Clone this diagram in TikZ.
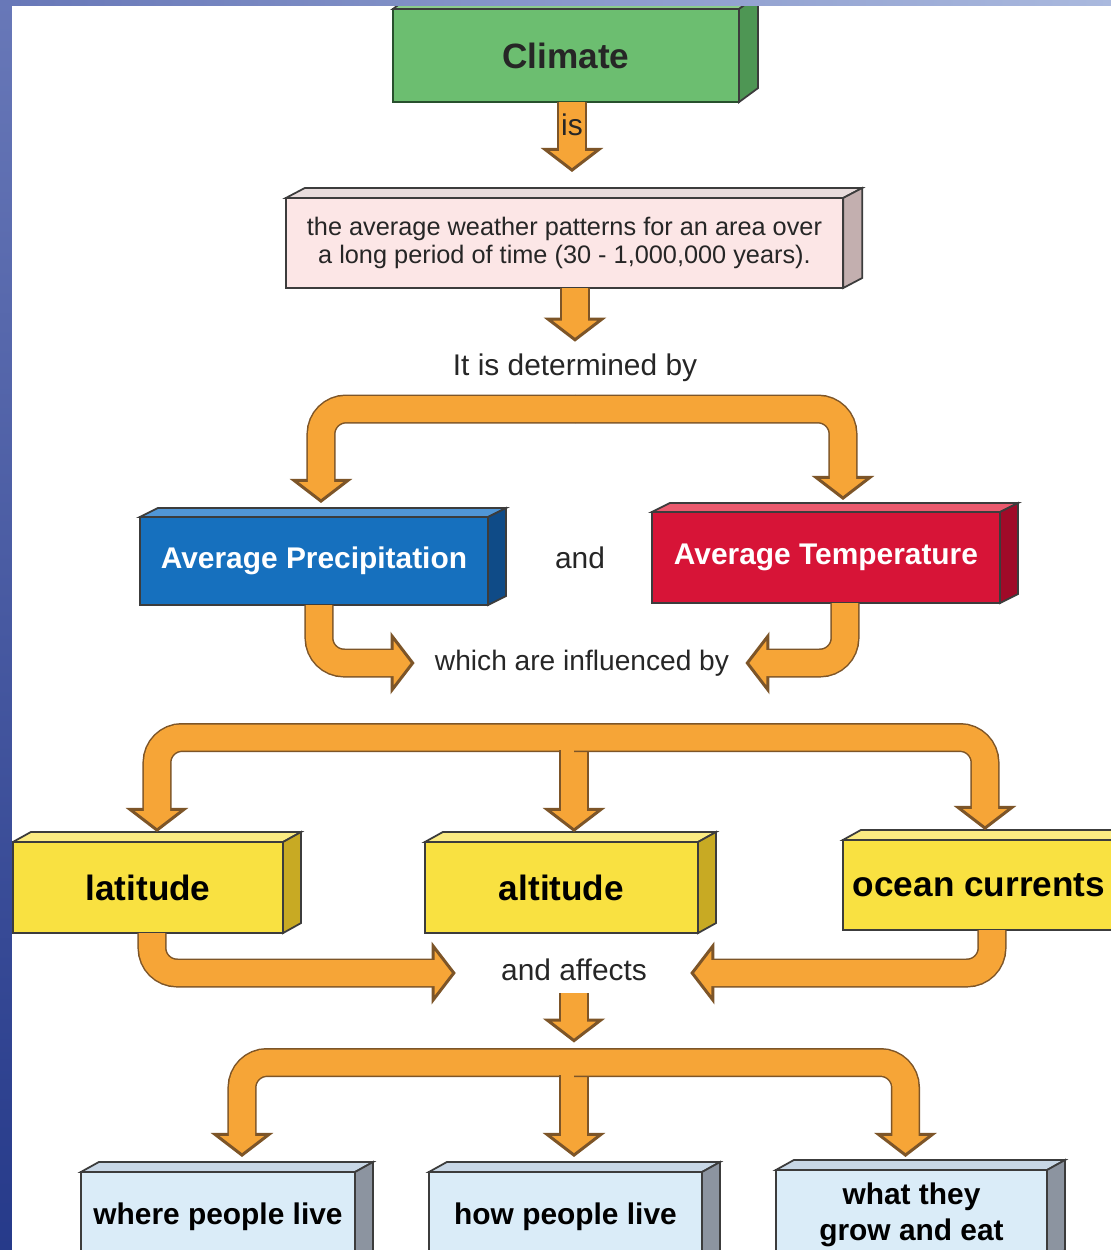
\documentclass[tikz,border=0pt]{standalone}
\usepackage{fontspec}
\setmainfont{Liberation Sans}
\usetikzlibrary{arrows.meta,calc}

\definecolor{frontclim}{RGB}{108,190,112}
\definecolor{topclim}{RGB}{140,205,140}
\definecolor{sideclim}{RGB}{78,150,84}
\definecolor{edgeclim}{RGB}{40,80,45}
\definecolor{frontnote}{RGB}{252,230,230}
\definecolor{topnote}{RGB}{232,220,220}
\definecolor{sidenote}{RGB}{195,175,175}
\definecolor{frontprec}{RGB}{22,112,190}
\definecolor{topprec}{RGB}{80,150,215}
\definecolor{sideprec}{RGB}{15,75,135}
\definecolor{fronttemp}{RGB}{215,20,55}
\definecolor{toptemp}{RGB}{235,90,110}
\definecolor{sidetemp}{RGB}{160,10,40}
\definecolor{frontfact}{RGB}{249,225,65}
\definecolor{topfact}{RGB}{251,235,130}
\definecolor{sidefact}{RGB}{200,170,35}
\definecolor{fronteff}{RGB}{218,236,248}
\definecolor{topeff}{RGB}{200,215,230}
\definecolor{sideeff}{RGB}{140,148,160}
\definecolor{arroworange}{RGB}{246,165,55}
\definecolor{arrowedge}{RGB}{125,85,40}
\definecolor{boxedge}{RGB}{60,60,60}
\definecolor{bandtop}{RGB}{104,120,184}
\definecolor{bandbottom}{RGB}{38,58,138}
\definecolor{bandlight}{RGB}{170,185,222}

\tikzset{
  facebox/.style={draw=boxedge, line width=0.5pt, outer sep=0pt, inner sep=0pt, align=center},
  climbox/.style={facebox, fill=frontclim, draw=edgeclim, text=black!85,
    font=\fontsize{10}{12}\selectfont\bfseries},
  notebox/.style={facebox, fill=frontnote, text=black!85, font=\fontsize{7.2}{8}\selectfont},
  precbox/.style={facebox, fill=frontprec, text=white, font=\fontsize{8.5}{10}\selectfont\bfseries},
  tempbox/.style={facebox, fill=fronttemp, text=white, font=\fontsize{8.5}{10}\selectfont\bfseries},
  factbox/.style={facebox, fill=frontfact, text=black, font=\fontsize{10}{12}\selectfont\bfseries},
  effbox/.style={facebox, fill=fronteff, text=black, font=\fontsize{8.5}{10.2}\selectfont\bfseries},
  lbl/.style={text=black!85, font=\fontsize{8.5}{10}\selectfont},
  fatarrow/.style={draw=arrowedge, line width=2.9mm,
    -{Triangle[length=2.4mm, width=6.2mm, line width=0.3mm, fill=arroworange]},
    postaction={draw=arroworange, line width=2.6mm, -, shorten >=2mm}}
}

\begin{document}
\begin{tikzpicture}[x=0.01cm, y=-0.01cm]
\useasboundingbox (0,0) rectangle (1111,1250);
\clip (0,0) rectangle (1111,1250);
\fill[white] (0,0) rectangle (1111,1250);

% boxes
\node[climbox, minimum width=3.46cm, minimum height=0.93cm] at (566,55.5) (climate) {Climate};
\node[notebox, minimum width=5.57cm, minimum height=0.90cm] at (564.5,243) (note)
  {the average weather patterns for an area over\\a long period of time (30 - 1,000,000 years).};
\node[precbox, minimum width=3.48cm, minimum height=0.88cm] at (314,561) (prec) {Average Precipitation};
\node[tempbox, minimum width=3.48cm, minimum height=0.91cm] at (826,557.5) (temp) {Average Temperature};
\node[factbox, minimum width=2.70cm, minimum height=0.91cm] at (148,887.5) (lat) {latitude};
\node[factbox, minimum width=2.73cm, minimum height=0.91cm] at (561.5,887.5) (alt) {altitude};
\node[factbox, minimum width=2.72cm, minimum height=0.90cm] at (979,885) (ocean) {ocean currents};
\node[effbox, minimum width=2.74cm, minimum height=0.90cm] at (218,1217) (where) {where people live};
\node[effbox, minimum width=2.73cm, minimum height=0.90cm] at (565.5,1217) (how) {how people live};
\node[effbox, minimum width=2.71cm, minimum height=0.90cm] at (911.5,1215) (what) {what they\\grow and eat};

% top and side faces
\foreach \n/\dx/\dy/\col in {climate/19/14/clim, note/19/10/note, prec/18/9/prec, temp/18/9/temp,
    lat/18/10/fact, alt/18/10/fact, ocean/18/10/fact, where/18/10/eff, how/18/10/eff, what/18/10/eff}
{
  \filldraw[fill=top\col, draw=boxedge, line width=0.5pt]
    (\n.north west) -- ++(\dx,-\dy) -- ($(\n.north east)+(\dx,-\dy)$) -- (\n.north east) -- cycle;
  \filldraw[fill=side\col, draw=boxedge, line width=0.5pt]
    (\n.north east) -- ++(\dx,-\dy) -- ($(\n.south east)+(\dx,-\dy)$) -- (\n.south east) -- cycle;
}

% labels
\node[lbl] at (575,368) (det) {It is determined by};
\node[lbl] at (580,558) (andlbl) {and};
\node[lbl, font=\fontsize{8}{10}\selectfont] at (582,663) (infl) {which are influenced by};
\node[lbl] at (574,970) (aff) {and affects};

\coordinate (split1) at (575,409);
\coordinate (split2) at (574,737.5);
\coordinate (split3) at (574,1062.5);

% arrows
\draw[fatarrow] ($(climate.south)+(6,0)$) -- node[lbl, pos=0.33] (is) {is} ($(note.north)+(7.5,-26)$);
\draw[fatarrow] (note.south -| det) -- (det.north);

\draw[fatarrow, rounded corners=2.5mm] (split1) -| ($(prec.north)+(7,-14)$);
\draw[fatarrow, rounded corners=2.5mm] (split1) -| ($(temp.north)+(17,-12)$);

\draw[fatarrow, rounded corners=2.5mm] ($(prec.south)+(5,0)$) |- ($(infl.west)+(-8,0)$);
\draw[fatarrow, rounded corners=2.5mm] ($(temp.south)+(19,0)$) |- ($(infl.east)+(4,0)$);

\draw[fatarrow, rounded corners=2.5mm] (split2) -| ($(lat.north)+(9,-10)$);
\draw[fatarrow] ($(split2)+(0,12)$) -- ($(alt.north -| split2)+(0,-10)$);
\draw[fatarrow, rounded corners=2.5mm] (split2) -| ($(ocean.north)+(6,-10)$);

\draw[fatarrow, rounded corners=2.5mm] ($(lat.south)+(4,0)$) |- ($(aff.west)+(-33,3)$);
\draw[fatarrow, rounded corners=2.5mm] ($(ocean.south)+(13,0)$) |- ($(aff.east)+(31,3)$);
\draw[fatarrow] (aff.south) -- ($(split3)+(0,-20)$);

\draw[fatarrow, rounded corners=2.5mm] (split3) -| ($(where.north)+(24,-15)$);
\draw[fatarrow] ($(split3)+(0,12)$) -- ($(how.north -| split3)+(0,-15)$);
\draw[fatarrow, rounded corners=2.5mm] (split3) -| ($(what.north)+(-6,-13)$);

% frame bands
\shade[top color=bandtop, bottom color=bandbottom] (0,0) rectangle (12,1250);
\shade[left color=bandtop, right color=bandlight] (12,0) rectangle (1111,5);
\end{tikzpicture}
\end{document}
